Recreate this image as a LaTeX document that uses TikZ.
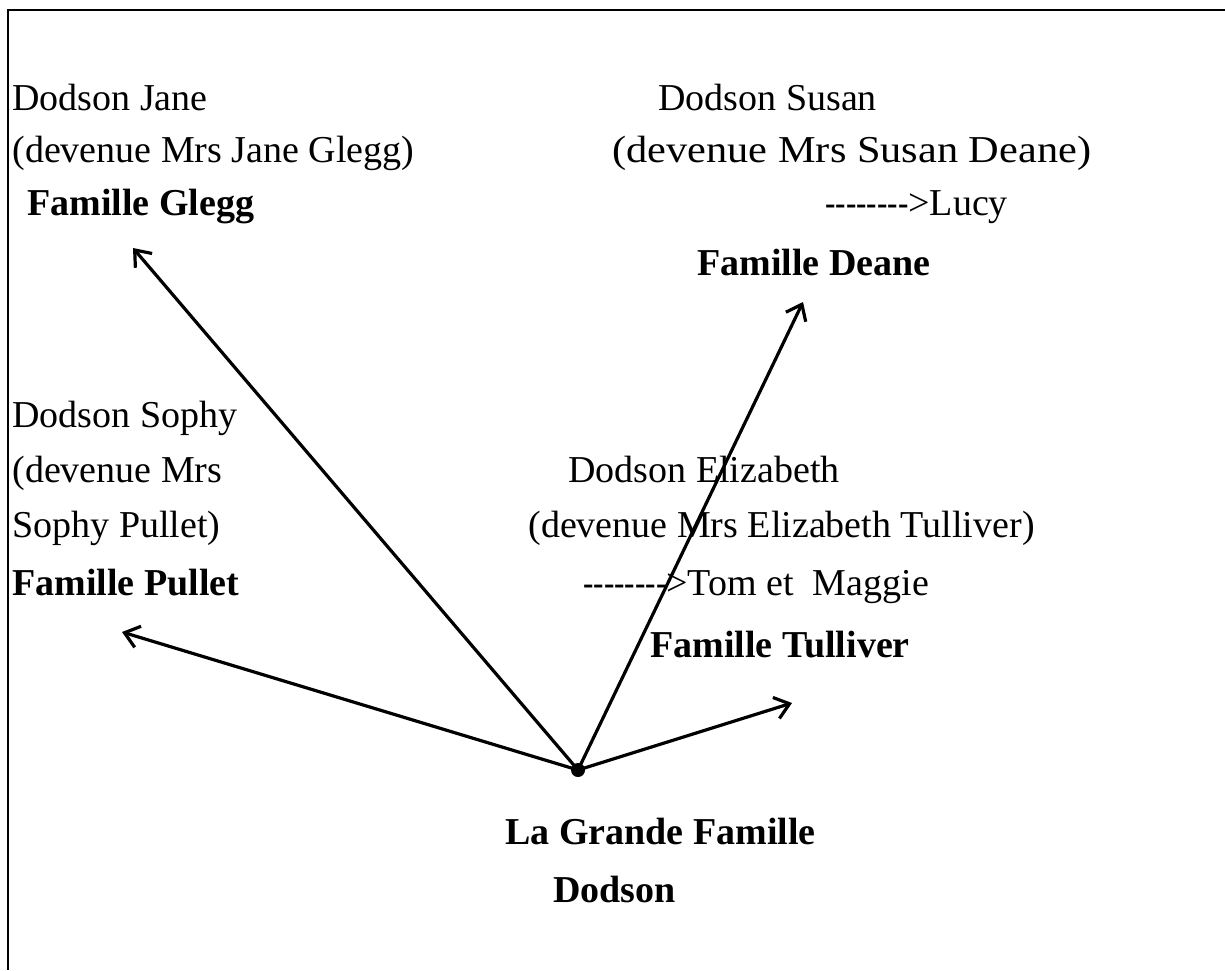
\documentclass[tikz,border=0pt]{standalone}
\usepackage{fontspec}
\setmainfont{Liberation Serif}
\usetikzlibrary{arrows.meta}
\newcommand\hy{-\kern0pt}
\newcommand\dashline{\scalebox{.82}[1]{\hy\hy\hy\hy\hy\hy\hy\hy}>}
\begin{document}
\begin{tikzpicture}[x=.5pt, y=-.5pt, >={Straight Barb[length=7pt,width=11pt]},
  txt/.style={anchor=base west, inner sep=0pt, font=\fontsize{19}{23}\selectfont},
  fam/.style={txt, font=\fontsize{19}{23}\selectfont\bfseries},
  link/.style={->, line width=1.6pt}]
\useasboundingbox (0,0) rectangle (1225,970);
\draw[line width=1pt] (8,970) -- (8,10) -- (1225,10);
% Glegg
\node[txt] (jane) at (12,110) {Dodson Jane};
\node[txt] (janeb) at (12,162) {(devenue Mrs Jane Glegg)};
\node[fam] (glegg) at (27,215) {Famille Glegg};
% Deane
\node[txt] (susan) at (658,110) {Dodson Susan};
\node[txt] (susanb) at (612,162) {\scalebox{1.115}[1]{(devenue Mrs Susan Deane)}};
\node[txt] (lucy) at (825,215) {\dashline Lucy};
\node[fam] (deane) at (697,275) {Famille Deane};
% Pullet
\node[txt] (sophy) at (12,427) {Dodson Sophy};
\node[txt] (sophyb) at (12,482) {(devenue Mrs};
\node[txt] (sophyc) at (12,537) {Sophy Pullet)};
\node[fam] (pullet) at (12,595) {Famille Pullet};
% Tulliver
\node[txt] (eliz) at (568,482) {Dodson Elizabeth};
\node[txt] (elizb) at (528,537) {(devenue Mrs Elizabeth Tulliver)};
\node[txt] (tom) at (583,595) {\dashline Tom et\ \ Maggie};
\node[fam] (tulliver) at (650,657) {Famille Tulliver};
% racine
\node[fam] (grande) at (505,844) {La Grande Famille};
\node[fam] (dodson) at (553,902) {Dodson};
\coordinate (root) at (578,770);
\fill (root) circle (3.5pt);
\coordinate (tglegg) at (133,248);
\coordinate (tdeane) at (803,302);
\coordinate (tpullet) at (122,632);
\coordinate (ttulliver) at (792,703);
\draw[link] (root) -- (tglegg);
\draw[link] (root) -- (tdeane);
\draw[link] (root) -- (tpullet);
\draw[link] (root) -- (ttulliver);
\end{tikzpicture}
\end{document}
